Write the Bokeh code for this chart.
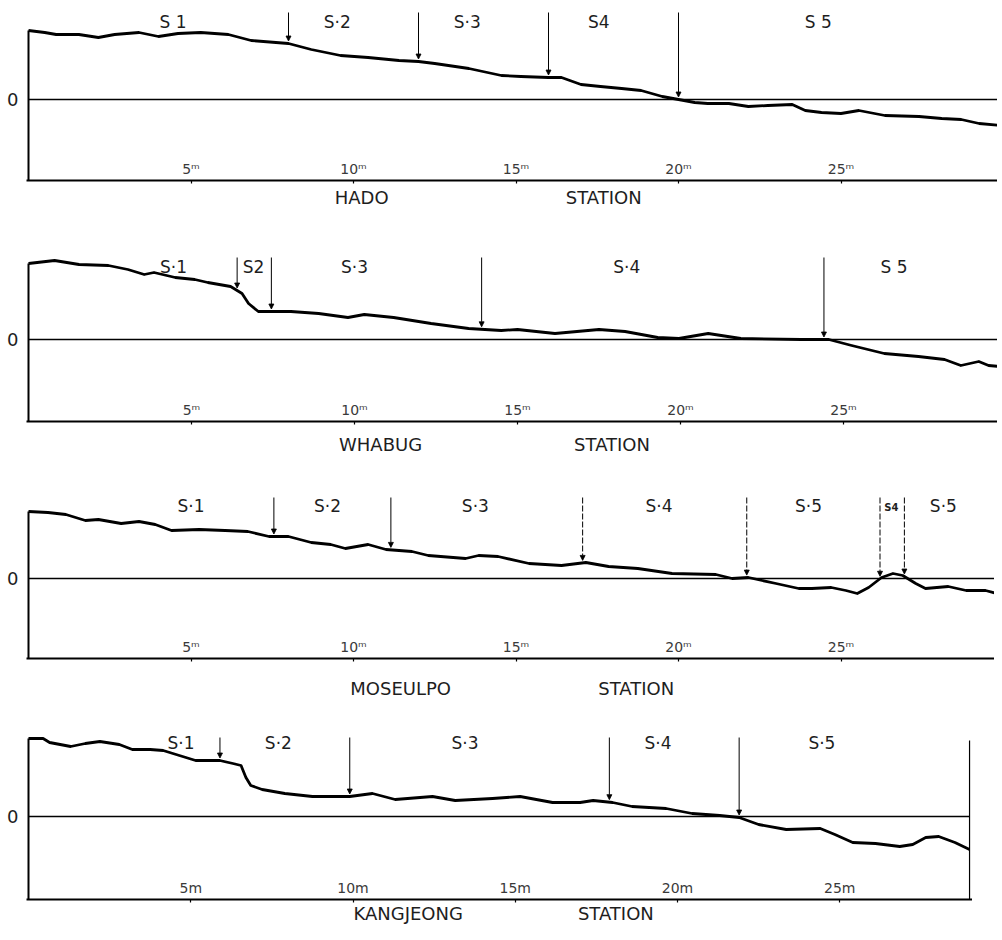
import numpy as np
from bokeh.plotting import figure
from bokeh.models import ColumnDataSource, FixedTicker, Arrow, NormalHead, Range1d
from bokeh.layouts import column
from bokeh.embed import file_html
from bokeh.resources import INLINE
from bokeh.core.properties import value

# ---------------- data ----------------
tick_values = [5, 10, 15, 20, 25]
tick_labels_sup = ["5ᵐ", "10ᵐ", "15ᵐ", "20ᵐ", "25ᵐ"]
tick_labels_plain = ["5m", "10m", "15m", "20m", "25m"]
station_word = "STATION"
zero_label = "0"

hado_x = [0.0, 0.5, 0.85, 1.55, 2.15, 2.65, 3.4, 4.0, 4.6, 5.3, 6.15, 6.85, 8.0, 8.7, 9.6,
          10.45, 11.4, 12.0, 12.5, 13.55, 14.55, 15.15, 16.0, 16.4, 17.0, 17.6, 18.25, 18.85,
          19.5, 20.0, 20.5, 20.9, 21.55, 22.15, 22.75, 23.5, 23.9, 24.4, 25.0, 25.55, 26.35,
          27.4, 28.1, 28.7, 29.25, 29.9]
hado_z = [6.9, 6.7, 6.5, 6.5, 6.2, 6.5, 6.7, 6.3, 6.6, 6.7, 6.5, 5.9, 5.6, 5.0, 4.4,
          4.2, 3.9, 3.8, 3.6, 3.1, 2.4, 2.3, 2.2, 2.2, 1.5, 1.3, 1.1, 0.9,
          0.3, 0.0, -0.3, -0.4, -0.4, -0.7, -0.6, -0.5, -1.1, -1.3, -1.4, -1.1, -1.6,
          -1.7, -1.9, -2.0, -2.4, -2.6]
hado_bounds = [8.0, 12.0, 16.0, 20.0]
hado_end = 29.9
hado_zones = ["S 1", "S·2", "S·3", "S4", "S 5"]
hado_zone_x = [4.45, 9.5, 13.5, 17.55, 24.3]

whabug_x = [0.0, 0.8, 1.55, 2.45, 3.05, 3.55, 3.85, 4.5, 5.1, 5.5, 6.2, 6.55, 6.75, 7.05,
            7.45, 8.05, 8.9, 9.8, 10.3, 11.2, 12.35, 13.5, 14.5, 15.0, 16.15, 17.5, 18.3,
            19.3, 19.95, 20.85, 21.85, 23.7, 24.55, 25.25, 26.25, 27.3, 28.1, 28.6, 29.15,
            29.45, 29.8]
whabug_z = [7.6, 7.9, 7.5, 7.4, 7.0, 6.5, 6.7, 6.2, 6.0, 5.7, 5.3, 4.6, 3.6, 2.8,
            2.8, 2.8, 2.6, 2.2, 2.5, 2.2, 1.6, 1.1, 0.9, 1.0, 0.6, 1.0, 0.8,
            0.2, 0.1, 0.6, 0.1, 0.0, 0.0, -0.6, -1.4, -1.7, -2.0, -2.6, -2.2,
            -2.6, -2.7]
whabug_bounds = [6.4, 7.45, 13.9, 24.4]
whabug_end = 29.8
whabug_zones = ["S·1", "S2", "S·3", "S·4", "S 5"]
whabug_zone_x = [4.45, 6.9, 10.0, 18.35, 26.55]

moseulpo_x = [0.0, 0.6, 1.15, 1.75, 2.15, 2.85, 3.4, 3.9, 4.4, 5.25, 6.05, 6.75, 7.4, 8.0,
              8.7, 9.3, 9.75, 10.45, 11.0, 11.8, 12.3, 13.45, 13.85, 14.45, 15.4, 16.4,
              17.15, 17.85, 18.75, 19.8, 21.15, 21.65, 22.15, 23.0, 23.7, 24.1, 24.7, 25.15,
              25.5, 25.85, 26.25, 26.6, 26.9, 27.3, 27.6, 28.3, 28.85, 29.45, 29.8]
moseulpo_z = [6.7, 6.6, 6.4, 5.8, 5.9, 5.5, 5.7, 5.4, 4.8, 4.9, 4.8, 4.7, 4.2, 4.2,
              3.6, 3.4, 3.0, 3.4, 2.9, 2.7, 2.3, 2.0, 2.3, 2.2, 1.5, 1.3,
              1.6, 1.2, 1.0, 0.5, 0.4, 0.0, 0.1, -0.5, -1.0, -1.0, -0.9, -1.2,
              -1.5, -0.9, 0.1, 0.5, 0.3, -0.5, -1.0, -0.8, -1.2, -1.2, -1.5]
moseulpo_bounds = [7.55, 11.15, 17.05, 22.1, 26.2, 26.95]
moseulpo_end = 29.8
moseulpo_zones = ["S·1", "S·2", "S·3", "S·4", "S·5", "S·5"]
moseulpo_zone_x = [5.0, 9.2, 13.75, 19.4, 24.0, 28.15]
moseulpo_small_zone = ["S4"]
moseulpo_small_zone_x = [26.55]

kang_x = [0.0, 0.45, 0.65, 1.3, 1.75, 2.2, 2.8, 3.2, 3.75, 4.15, 4.65, 5.15, 5.9, 6.3,
          6.55, 6.7, 6.85, 7.2, 7.9, 8.75, 9.9, 10.6, 11.3, 12.45, 13.15, 14.3, 15.15,
          16.15, 17.0, 17.4, 18.0, 18.6, 19.65, 20.45, 21.3, 21.9, 22.5, 23.35, 24.4,
          24.85, 25.4, 26.1, 26.85, 27.25, 27.65, 28.05, 28.55, 29.0]
kang_z = [7.8, 7.8, 7.4, 7.0, 7.3, 7.5, 7.2, 6.7, 6.7, 6.6, 6.1, 5.6, 5.6, 5.3,
          5.1, 3.9, 3.1, 2.7, 2.3, 2.0, 2.0, 2.3, 1.7, 2.0, 1.6, 1.8, 2.0,
          1.4, 1.4, 1.6, 1.4, 1.0, 0.8, 0.3, 0.1, -0.1, -0.8, -1.3, -1.2,
          -1.8, -2.6, -2.7, -3.0, -2.8, -2.1, -2.0, -2.6, -3.3]
kang_bounds = [5.9, 9.9, 17.9, 21.9]
kang_end = 29.0
kang_zones = ["S·1", "S·2", "S·3", "S·4", "S·5"]
kang_zone_x = [4.7, 7.7, 13.45, 19.4, 24.45]

# ---------------- layout / style constants ----------------
FONT = "DejaVu Sans"
INK = "#1e1e1e"
AXIS_BORDER = 4


def build(name, xs, zs, bounds, x_end, zones, zone_x, tick_txt, L, dashed_from=None,
          small_zones=None, small_zone_x=None, top_pad=0):
    ppm = L["ppm"]
    mbl = L["origin"] - 8 - 2
    fw = L["width"] - mbl
    xr = Range1d(-2.0 / ppm, -2.0 / ppm + fw / ppm)
    ybot, ytop = L["ybot"], L["ytop"]
    frame_h = int(round((ytop - ybot) * 10))
    p = figure(frame_width=fw, frame_height=frame_h, title=None,
               x_range=xr, y_range=Range1d(ybot, ytop),
               output_backend="svg", toolbar_location=None,
               min_border_left=mbl, min_border_right=0, min_border_top=top_pad,
               min_border_bottom=AXIS_BORDER)
    p.outline_line_color = None
    p.grid.visible = False
    p.background_fill_color = "white"
    p.border_fill_color = "white"

    # bottom axis: distance scale, labels sitting just above the base line
    ax = p.xaxis[0]
    ax.ticker = FixedTicker(ticks=tick_values)
    ax.major_label_overrides = {t: s for t, s in zip(tick_values, tick_txt)}
    ax.axis_line_color = "black"
    ax.axis_line_width = 2
    ax.major_tick_in = 0
    ax.major_tick_out = 3
    ax.major_tick_line_width = 1.2
    ax.minor_tick_line_color = None
    ax.major_label_standoff = -23
    ax.major_label_text_font = FONT
    ax.major_label_text_font_size = "14px"
    ax.major_label_text_color = "#3a3a3a"

    # left axis: only the zero level
    ay = p.yaxis[0]
    ay.ticker = FixedTicker(ticks=[0])
    ay.major_label_overrides = {0: zero_label}
    ay.axis_line_color = None
    ay.major_tick_line_color = None
    ay.minor_tick_line_color = None
    ay.major_label_standoff = 2
    ay.major_label_text_font = FONT
    ay.major_label_text_font_size = "18px"
    ay.major_label_text_color = INK

    # zero line, start line, end line
    p.segment(x0=[xs[0]], y0=[0], x1=[x_end], y1=[0], line_color="black", line_width=1.3)
    p.segment(x0=[xs[0]], y0=[ybot], x1=[xs[0]], y1=[zs[0]], line_color="black", line_width=2)
    p.segment(x0=[x_end], y0=[L["edge_bot"]], x1=[x_end], y1=[L["edge_top"]],
              line_color="black", line_width=1.2)

    # profile
    p.line(xs, zs, line_color="black", line_width=2.8, line_join="round")

    # zone boundary arrows
    ends = np.interp(bounds, xs, zs) + 0.25
    n = len(bounds)
    idx_sets = [list(range(n))] if dashed_from is None else [list(range(dashed_from)), list(range(dashed_from, n))]
    for k, ids in enumerate(idx_sets):
        if not ids:
            continue
        src = ColumnDataSource(dict(xs=[bounds[i] for i in ids], ys=[L["arrow_top"]] * len(ids),
                                    xe=[bounds[i] for i in ids], ye=[float(ends[i]) for i in ids]))
        arr = Arrow(end=NormalHead(size=5, fill_color="black", line_color="black", line_width=0.8),
                    x_start="xs", y_start="ys", x_end="xe", y_end="ye", source=src,
                    line_color="black", line_width=1)
        if k == 1:
            arr.line_dash = "6 2"
        p.add_layout(arr)

    # zone labels
    p.text(x=zone_x, y=[L["label_y"]] * len(zones), text=zones, text_font=value(FONT),
           text_font_size="17px", text_align="center", text_baseline="middle", text_color=INK)
    if small_zones:
        p.text(x=small_zone_x, y=[L["label_y"] - 0.15] * len(small_zones), text=small_zones,
               text_font=value(FONT), text_font_size="10px", text_font_style="bold",
               text_align="center", text_baseline="middle", text_color=INK)

    # strip under the axis carrying the station title (same x scale)
    sh = L["mbb"] - AXIS_BORDER
    s = figure(frame_width=fw, frame_height=sh, title=None, x_range=xr,
               y_range=Range1d(-sh, 0), output_backend="svg", toolbar_location=None,
               x_axis_location=None, y_axis_location=None,
               min_border_left=mbl, min_border_right=0, min_border_top=0, min_border_bottom=0)
    s.outline_line_color = None
    s.grid.visible = False
    ty = -(L["title_dy"] - AXIS_BORDER)
    s.text(x=list(L["title_x"]), y=[ty, ty], text=[name, station_word], text_font=value(FONT),
           text_font_size="18px", text_align="center", text_baseline="middle", text_color=INK)
    return [p, s]


L1 = dict(origin=27, ppm=32.5, width=992, ytop=9.1, ybot=-8.1, mbb=60, arrow_top=8.7,
          label_y=7.75, edge_top=8.4, edge_bot=-8.1, title_dy=17, title_x=(10.25, 17.7))
L2 = dict(origin=27, ppm=32.6, width=992, ytop=9.9, ybot=-8.2, mbb=49, arrow_top=8.2,
          label_y=7.3, edge_top=7.1, edge_bot=-8.2, title_dy=23, title_x=(10.8, 17.9))
L3 = dict(origin=30, ppm=32.5, width=992, ytop=10.8, ybot=-8.0, mbb=47, arrow_top=8.1,
          label_y=7.3, edge_top=8.0, edge_bot=5.5, title_dy=30, title_x=(11.45, 18.7))
L4 = dict(origin=36, ppm=32.45, width=972, ytop=11.1, ybot=-8.3, mbb=27, arrow_top=7.9,
          label_y=7.35, edge_top=7.6, edge_bot=-8.3, title_dy=14, title_x=(11.7, 18.1))

figs = []
figs += build("HADO", hado_x, hado_z, hado_bounds, hado_end, hado_zones, hado_zone_x,
              tick_labels_sup, L1, top_pad=8)
figs += build("WHABUG", whabug_x, whabug_z, whabug_bounds, whabug_end, whabug_zones,
              whabug_zone_x, tick_labels_sup, L2)
figs += build("MOSEULPO", moseulpo_x, moseulpo_z, moseulpo_bounds, moseulpo_end,
              moseulpo_zones, moseulpo_zone_x, tick_labels_sup, L3, dashed_from=2,
              small_zones=moseulpo_small_zone, small_zone_x=moseulpo_small_zone_x)
figs += build("KANGJEONG", kang_x, kang_z, kang_bounds, kang_end, kang_zones, kang_zone_x,
              tick_labels_plain, L4)

layout = column(*figs, spacing=0)
open("out.html", "w").write(file_html(layout, INLINE))
